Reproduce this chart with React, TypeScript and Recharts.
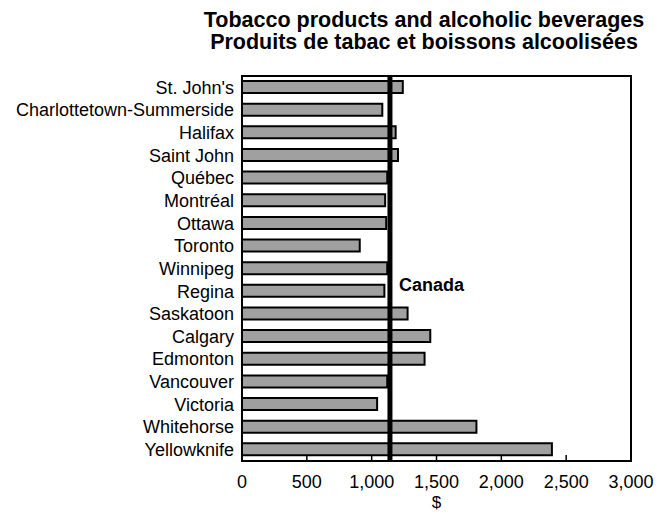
import { Bar, BarChart, ReferenceArea, ReferenceLine, XAxis, YAxis } from "recharts";

const FONT = "'Liberation Sans', Arial, sans-serif";
const BAR_FILL = "#a0a0a0";

const TITLE_EN = "Tobacco products and alcoholic beverages";
const TITLE_FR = "Produits de tabac et boissons alcoolisées";

const cities = [
  "St. John's",
  "Charlottetown-Summerside",
  "Halifax",
  "Saint John",
  "Québec",
  "Montréal",
  "Ottawa",
  "Toronto",
  "Winnipeg",
  "Regina",
  "Saskatoon",
  "Calgary",
  "Edmonton",
  "Vancouver",
  "Victoria",
  "Whitehorse",
  "Yellowknife",
];

const spending = [
  1240, 1082, 1185, 1203, 1120, 1104, 1112, 908, 1120, 1098, 1277, 1452, 1408,
  1120, 1042, 1808, 2390,
];

const CANADA_AVERAGE = 1141;
const xTicks = [0, 500, 1000, 1500, 2000, 2500, 3000];

const rows = cities.map((city, i) => ({ city, value: spending[i] }));

const formatDollars = (n: number) => n.toLocaleString("en-US");

// label for the Canada line, sits just right of it a bit below mid-plot
const CanadaLabel = (props: { viewBox?: { x: number; y: number; height: number } }) => {
  const vb = props.viewBox;
  if (!vb) return null;
  return (
    <text
      x={vb.x + 9}
      y={vb.y + vb.height * 0.543}
      dominantBaseline="central"
      fontFamily={FONT}
      fontSize={18}
      fontWeight="bold"
      fill="#000"
    >
      Canada
    </text>
  );
};

export default function App() {
  return (
    <div
      style={{
        position: "absolute",
        left: 0,
        top: 0,
        width: 666,
        height: 512,
        background: "#fff",
        fontFamily: FONT,
      }}
    >
      <div
        style={{
          position: "absolute",
          left: 154,
          width: 540,
          top: 9,
          textAlign: "center",
          fontWeight: "bold",
          fontSize: 21.5,
          lineHeight: "22px",
          color: "#000",
        }}
      >
        <div>{TITLE_EN}</div>
        <div>{TITLE_FR}</div>
      </div>
      <BarChart
        width={666}
        height={512}
        data={rows}
        layout="vertical"
        margin={{ top: 76, right: 35, bottom: 0, left: 0 }}
      >
        <XAxis
          type="number"
          domain={[0, 3000]}
          ticks={xTicks}
          interval={0}
          tickFormatter={formatDollars}
          tick={{ fill: "#000", fontSize: 18, fontFamily: FONT }}
          axisLine={{ stroke: "#000", strokeWidth: 2 }}
          tickLine={{ stroke: "#000", strokeWidth: 1.5 }}
          tickSize={-6}
          tickMargin={20}
          height={51}
          label={{
            value: "$",
            position: "insideBottom",
            offset: 4,
            fill: "#000",
            fontSize: 17,
            fontFamily: FONT,
          }}
        />
        <YAxis
          type="category"
          dataKey="city"
          width={242}
          interval={0}
          tick={{ fill: "#000", fontSize: 18, fontFamily: FONT }}
          axisLine={{ stroke: "#000", strokeWidth: 2 }}
          tickLine={false}
        />
        <ReferenceArea
          x1={0}
          x2={3000}
          fill="none"
          stroke="#000"
          strokeWidth={2}
          ifOverflow="visible"
        />
        <Bar
          dataKey="value"
          fill={BAR_FILL}
          stroke="#000"
          strokeWidth={2}
          barSize={12}
          isAnimationActive={false}
        />
        <ReferenceLine
          x={CANADA_AVERAGE}
          stroke="#000"
          strokeWidth={5}
          label={<CanadaLabel />}
        />
      </BarChart>
    </div>
  );
}
